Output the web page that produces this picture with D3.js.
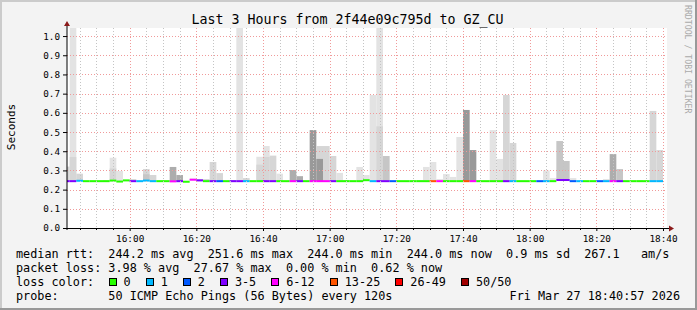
<!DOCTYPE html>
<html>
<head>
<meta charset="utf-8">
<script src="https://cdn.jsdelivr.net/npm/d3@7"></script>
<style>
html, body { margin: 0; padding: 0; background: #f3f3f3; }
svg { display: block; }
text { font-family: "DejaVu Sans Mono", monospace; white-space: pre; }
</style>
</head>
<body>
<svg id="chart" width="697" height="310"></svg>
<script>
// one sample every 120 s, first step starts 15:40
const stepStart = new Date(2026, 2, 27, 15, 40, 0);
const viewStart = new Date(2026, 2, 27, 15, 41, 12);
const viewEnd = new Date(2026, 2, 27, 18, 41, 12);

// loss colour bucket per step (index into lossColors)
const lossIdx = [
  3,3,1,0,0,0,0,0,0,0,
  3,1,1,1,0,0,4,3,0,4,
  3,0,3,2,0,3,3,1,0,0,
  3,3,0,0,4,3,0,4,4,4,
  3,0,0,0,0,0,1,3,3,2,
  0,0,0,0,0,5,4,0,0,0,
  5,4,0,0,0,0,3,1,0,0,
  0,2,1,0,3,3,2,1,0,0,
  2,1,4,3,0,0,0,0,1,1
];

// median rtt in seconds
const median = [
  .244,.244,.246,.244,.244,.244,.244,.247,.242,.248,
  .244,.244,.247,.244,.244,.244,.243,.244,.241,.2516,
  .248,.244,.244,.244,.244,.244,.244,.244,.244,.244,
  .244,.244,.244,.244,.244,.244,.244,.244,.244,.244,
  .244,.244,.244,.244,.244,.249,.244,.244,.244,.244,
  .244,.244,.244,.244,.244,.244,.244,.244,.244,.244,
  .244,.244,.244,.244,.244,.244,.244,.244,.244,.244,
  .244,.244,.244,.244,.250,.250,.244,.244,.244,.244,
  .244,.244,.244,.244,.244,.244,.244,.244,.244,.244
];

// top of the smoke (slowest ping) and its density (0 light .. 4 dark)
const smokeTop = [
  .32,1.05,.283,0,0,0,.25,.366,.297,0,
  .255,0,.307,.276,0,0,.318,.276,0,.256,
  .254,.255,.344,.286,0,.25,1.05,.26,0,.371,
  .427,.377,.283,0,.302,.27,0,.51,.427,.427,
  .375,.287,.25,0,.318,.276,.693,1.05,.375,0,
  0,0,0,.25,.318,.344,.255,.281,.266,.474,
  .615,.406,0,0,.51,.36,.693,.443,0,0,
  0,0,.30,.26,.453,.349,.26,0,0,0,
  0,.255,.385,.307,0,0,.25,0,.61,.406
];
const smokeTopTone = [
  1,0,1,0,0,0,0,0,0,0,
  1,0,1,1,0,0,3,3,0,3,
  2,1,1,1,0,1,0,1,0,0,
  0,1,0,0,3,3,0,4,1,1,
  1,0,0,0,0,0,0,0,2,0,
  0,0,0,0,0,0,0,0,0,0,
  4,4,0,0,0,0,1,1,0,0,
  0,0,0,0,2,2,0,0,0,0,
  0,0,3,2,0,0,0,0,1,1
];

// inner, denser smoke band
const smokeMid = [
  0,.37,0,0,0,0,0,.31,0,0,
  0,0,.28,0,0,0,0,0,0,0,
  0,0,0,0,0,0,0,0,0,.33,
  .37,0,0,0,0,0,0,0,.36,0,
  0,0,0,0,0,0,0,.53,0,0,
  0,0,0,0,0,0,0,0,0,0,
  0,0,0,0,0,0,0,0,0,0,
  0,0,0,0,0,0,0,0,0,0,
  0,0,0,0,0,0,0,0,0,0
];
const smokeMidTone = [
  0,1,0,0,0,0,0,1,0,0,
  0,0,2,0,0,0,0,0,0,0,
  0,0,0,0,0,0,0,0,0,1,
  1,0,0,0,0,0,0,0,4,0,
  0,0,0,0,0,0,0,1,0,0,
  0,0,0,0,0,0,0,0,0,0,
  0,0,0,0,0,0,0,0,0,0,
  0,0,0,0,0,0,0,0,0,0,
  0,0,0,0,0,0,0,0,0,0
];

const yTicks = [0, .1, .2, .3, .4, .5, .6, .7, .8, .9, 1.0];
const lossLabels = ["0", "1", "2", "3-5", "6-12", "13-25", "26-49", "50/50"];
const lossColors = ["#26ff00", "#00b8ff", "#0059ff", "#7e00ff", "#ff00ff", "#ff5500", "#ff0000", "#a10000"];
const smokeGreys = ["#e3e3e3", "#d6d6d6", "#c6c6c6", "#adadad", "#999999"];

const title = "Last 3 Hours from 2f44e09c795d to GZ_CU";
const legendRows = [
  "median rtt:  244.2 ms avg  251.6 ms max  244.0 ms min  244.0 ms now  0.9 ms sd  267.1   am/s",
  "packet loss: 3.98 % avg  27.67 % max  0.00 % min  0.62 % now"
];
const probeText = "probe:       50 ICMP Echo Pings (56 Bytes) every 120s";
const stampText = "Fri Mar 27 18:40:57 2026";

const W = 697, H = 310;
const L = 67, R = 667, T = 28, B = 228;
const nb = s => s.replace(/ /g, "\u00a0");

const svg = d3.select("#chart");

// canvas with rrdtool style bevel
svg.append("rect").attr("width", W).attr("height", H).attr("fill", "#f3f3f3");
svg.append("path").attr("d", `M0 0H${W}V2H2V${H}H0Z`).attr("fill", "#cbcbcb");
svg.append("path").attr("d", `M${W} ${H}H0V${H - 2}H${W - 2}V0H${W}Z`).attr("fill", "#999999");

const x = d3.scaleTime().domain([viewStart, viewEnd]).range([L, R]);
const y = d3.scaleLinear().domain([0, 1.042]).range([B, T]);
const tone = d3.scaleOrdinal().domain(d3.range(smokeGreys.length)).range(smokeGreys);
const lossColor = d3.scaleOrdinal().domain(d3.range(lossColors.length)).range(lossColors);

svg.append("rect").attr("x", L).attr("y", T).attr("width", R - L).attr("height", B - T).attr("fill", "#fff");

svg.append("clipPath").attr("id", "plot")
  .append("rect").attr("x", L).attr("y", T).attr("width", R - L).attr("height", B - T);

const steps = lossIdx.map((l, i) => {
  const t0 = d3.timeMinute.offset(stepStart, i * 2);
  return { t0, t1: d3.timeMinute.offset(t0, 2), loss: l, med: median[i],
           top: smokeTop[i], topTone: smokeTopTone[i], mid: smokeMid[i], midTone: smokeMidTone[i] };
});

const plot = svg.append("g").attr("clip-path", "url(#plot)");

// smoke
plot.append("g").selectAll("rect").data(steps.filter(d => d.top > 0)).join("rect")
  .attr("x", d => x(d.t0)).attr("width", d => x(d.t1) - x(d.t0))
  .attr("y", d => y(d.top)).attr("height", d => y(d.med) - y(d.top))
  .attr("fill", d => tone(d.topTone));
plot.append("g").selectAll("rect").data(steps.filter(d => d.mid > 0)).join("rect")
  .attr("x", d => x(d.t0)).attr("width", d => x(d.t1) - x(d.t0))
  .attr("y", d => y(d.mid)).attr("height", d => y(d.med) - y(d.mid))
  .attr("fill", d => tone(d.midTone));

// grid
const crisp = v => Math.round(v) + 0.5;
const minor = x.ticks(d3.timeMinute.every(5)).filter(d => d.getMinutes() % 20 !== 0);
const major = x.ticks(d3.timeMinute.every(20));
const grid = svg.append("g").attr("fill", "none").attr("stroke-width", 1).attr("stroke-dasharray", "1,2");
grid.selectAll(".mn").data(minor).join("line").attr("class", "mn")
  .attr("x1", d => crisp(x(d))).attr("x2", d => crisp(x(d))).attr("y1", T).attr("y2", B)
  .attr("stroke", "#c4c4c4");
grid.selectAll(".mj").data(major).join("line").attr("class", "mj")
  .attr("x1", d => crisp(x(d))).attr("x2", d => crisp(x(d))).attr("y1", T).attr("y2", B)
  .attr("stroke", "#f09a9a");
grid.selectAll(".hz").data(yTicks.filter(v => v > 0)).join("line").attr("class", "hz")
  .attr("x1", L).attr("x2", R).attr("y1", d => crisp(y(d))).attr("y2", d => crisp(y(d)))
  .attr("stroke", "#f09a9a");

// median line coloured by loss
plot.append("g").selectAll("rect").data(steps).join("rect")
  .attr("x", d => x(d.t0)).attr("width", d => x(d.t1) - x(d.t0))
  .attr("y", d => y(d.med) - 1).attr("height", 2)
  .attr("fill", d => lossColor(d.loss));

// axes
const yAxis = svg.append("g").attr("transform", `translate(${L},0)`)
  .call(d3.axisLeft(y).tickValues(yTicks).tickFormat(d3.format(".1f")).tickSize(4).tickPadding(3));
yAxis.select(".domain").remove();
yAxis.selectAll("text").attr("font-size", 9.3).attr("font-family", "DejaVu Sans Mono").attr("fill", "#000");
yAxis.selectAll("line").attr("stroke", "#000");

const xAxis = svg.append("g").attr("transform", `translate(0,${B})`)
  .call(d3.axisBottom(x).ticks(d3.timeMinute.every(20)).tickFormat(d3.timeFormat("%H:%M")).tickSize(3).tickPadding(4));
xAxis.select(".domain").remove();
xAxis.selectAll("text").attr("font-size", 9.4).attr("font-family", "DejaVu Sans Mono").attr("fill", "#000");
xAxis.selectAll("line").attr("stroke", "#000");
svg.append("g").selectAll("line").data(minor).join("line")
  .attr("x1", d => crisp(x(d))).attr("x2", d => crisp(x(d))).attr("y1", B).attr("y2", B + 2)
  .attr("stroke", "#000");

svg.append("line").attr("x1", L).attr("x2", L).attr("y1", B + 2).attr("y2", T - 2)
  .attr("stroke", "#000").attr("stroke-width", 1);
svg.append("line").attr("x1", L - 3).attr("x2", R + 3).attr("y1", B + 0.5).attr("y2", B + 0.5)
  .attr("stroke", "#000").attr("stroke-width", 1);
svg.append("path").attr("d", `M${L - 3} ${T - 2}L${L} ${T - 7}L${L + 3} ${T - 2}Z`).attr("fill", "#8b1a1a");
svg.append("path").attr("d", `M${R + 2} ${B - 2.5}L${R + 7} ${B + 0.5}L${R + 2} ${B + 3.5}Z`).attr("fill", "#8b1a1a");

// texts
svg.append("text").attr("x", 347.5).attr("y", 24).attr("text-anchor", "middle")
  .attr("font-size", 13.3).text(title);
svg.append("text").attr("transform", "translate(15,127) rotate(-90)").attr("text-anchor", "middle")
  .attr("font-size", 11).text("Seconds");
svg.append("text").attr("transform", "translate(685,5) rotate(90)")
  .attr("font-size", 8.2).attr("fill", "#aaaaaa").text("RRDTOOL / TOBI OETIKER");

const lg = svg.append("g").attr("font-size", 11.8).attr("fill", "#000");
lg.selectAll(".row").data(legendRows).join("text").attr("class", "row")
  .attr("x", 16).attr("y", (d, i) => 258 + i * 14).text(d => nb(d));
lg.append("text").attr("x", 16).attr("y", 286).text("loss color:");
lg.append("text").attr("x", 16).attr("y", 300).text(nb(probeText));
lg.append("text").attr("x", 680).attr("y", 300).attr("text-anchor", "end").text(stampText);

const cw = 7.12;
let bx = 16 + 13 * cw;
const items = lossLabels.map((lab, i) => {
  const it = { lab, i, bx };
  bx += 30 + lab.length * cw;
  return it;
});
const li = lg.selectAll(".li").data(items).join("g").attr("class", "li");
li.append("rect").attr("x", d => Math.round(d.bx) + 0.5).attr("y", 278.5).attr("width", 7).attr("height", 7)
  .attr("fill", d => lossColor(d.i)).attr("stroke", "#000").attr("stroke-width", 1);
li.append("text").attr("x", d => d.bx + 15).attr("y", 286).text(d => d.lab);
</script>
</body>
</html>
